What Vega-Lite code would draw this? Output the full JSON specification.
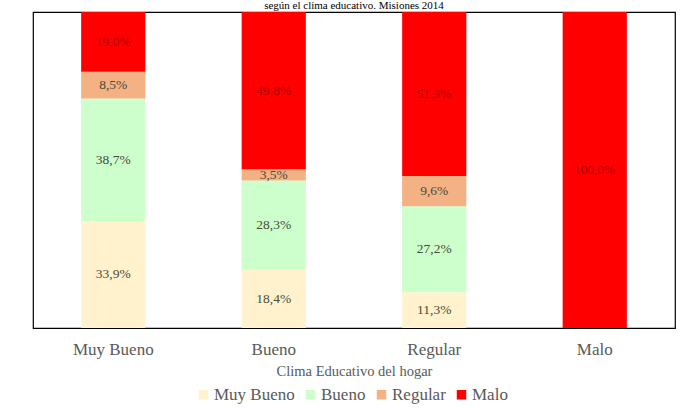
{
  "$schema": "https://vega.github.io/schema/vega-lite/v6.json",
  "width": 642,
  "height": 316,
  "autosize": {"type": "none"},
  "padding": {"left": 33, "top": 12, "right": 8, "bottom": 88},
  "title": {
    "text": "según el clima educativo. Misiones 2014",
    "font": "Liberation Serif",
    "fontSize": 11,
    "fontWeight": "normal",
    "color": "#000000",
    "offset": 1,
    "anchor": "middle"
  },
  "config": {
    "locale": {"number": {"decimal": ",", "thousands": ".", "grouping": [3], "currency": ["", " €"]}},
    "view": {"stroke": "#000000", "strokeWidth": 1.2},
    "font": "Liberation Serif",
    "axis": {"labelFont": "Liberation Serif", "titleFont": "Liberation Serif"},
    "legend": {"labelFont": "Liberation Serif", "titleFont": "Liberation Serif"},
    "text": {"font": "Liberation Serif"}
  },
  "data": {
    "values": [
      {"clima": "Muy Bueno", "serie": "Muy Bueno", "ord": 1, "valor": 0.339},
      {"clima": "Muy Bueno", "serie": "Bueno", "ord": 2, "valor": 0.387},
      {"clima": "Muy Bueno", "serie": "Regular", "ord": 3, "valor": 0.085},
      {"clima": "Muy Bueno", "serie": "Malo", "ord": 4, "valor": 0.190},
      {"clima": "Bueno", "serie": "Muy Bueno", "ord": 1, "valor": 0.184},
      {"clima": "Bueno", "serie": "Bueno", "ord": 2, "valor": 0.283},
      {"clima": "Bueno", "serie": "Regular", "ord": 3, "valor": 0.035},
      {"clima": "Bueno", "serie": "Malo", "ord": 4, "valor": 0.498},
      {"clima": "Regular", "serie": "Muy Bueno", "ord": 1, "valor": 0.113},
      {"clima": "Regular", "serie": "Bueno", "ord": 2, "valor": 0.272},
      {"clima": "Regular", "serie": "Regular", "ord": 3, "valor": 0.096},
      {"clima": "Regular", "serie": "Malo", "ord": 4, "valor": 0.519},
      {"clima": "Malo", "serie": "Malo", "ord": 4, "valor": 1.0}
    ]
  },
  "transform": [
    {"stack": "valor", "groupby": ["clima"], "sort": [{"field": "ord", "order": "ascending"}], "as": ["v0", "v1"]},
    {"calculate": "(datum.v0 + datum.v1) / 2", "as": "vmid"}
  ],
  "encoding": {
    "x": {
      "field": "clima",
      "type": "nominal",
      "sort": ["Muy Bueno", "Bueno", "Regular", "Malo"],
      "scale": {"paddingInner": 0.6, "paddingOuter": 0.3},
      "axis": {
        "title": "Clima Educativo del hogar",
        "titleFont": "Liberation Serif",
        "titleFontSize": 14.5,
        "titleFontWeight": "normal",
        "titleColor": "#595959",
        "titlePadding": 7,
        "labelFont": "Liberation Serif",
        "labelFontSize": 17,
        "labelColor": "#595959",
        "labelAngle": 0,
        "labelPadding": 13,
        "domain": false,
        "ticks": false
      }
    }
  },
  "layer": [
    {
      "mark": {"type": "bar", "clip": true},
      "encoding": {
        "y": {"field": "v0", "type": "quantitative", "scale": {"domain": [0, 1]}, "axis": null},
        "y2": {"field": "v1"},
        "color": {
          "field": "serie",
          "type": "nominal",
          "scale": {"domain": ["Muy Bueno", "Bueno", "Regular", "Malo"], "range": ["#FFF2CC", "#CCFFCC", "#F4B183", "#FF0000"]},
          "legend": {
            "title": null,
            "orient": "none",
            "legendX": 162,
            "legendY": 374,
            "direction": "horizontal",
            "symbolType": "square",
            "symbolSize": 90,
            "symbolStrokeWidth": 0,
            "labelFont": "Liberation Serif",
            "labelFontSize": 17,
            "labelColor": "#595959",
            "columnPadding": 7,
            "symbolOffset": 0,
            "labelOffset": 2
          }
        }
      }
    },
    {
      "mark": {"type": "text", "font": "Liberation Serif", "fontSize": 13.5, "baseline": "middle"},
      "encoding": {
        "y": {"field": "vmid", "type": "quantitative", "scale": {"domain": [0, 1]}},
        "text": {"field": "valor", "type": "quantitative", "format": ".1%"},
        "color": {"condition": {"test": "datum.serie === 'Malo'", "value": "#b00000"}, "value": "#4a4a3a"}
      }
    }
  ]
}
